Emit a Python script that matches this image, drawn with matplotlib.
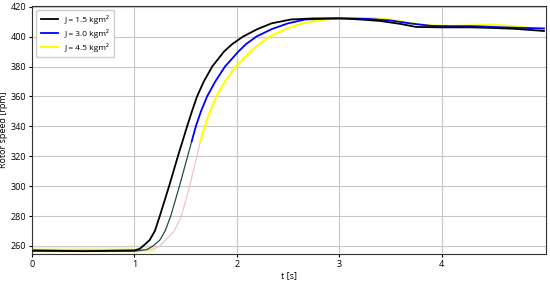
import matplotlib
matplotlib.use("Agg")
import matplotlib.pyplot as plt

plt.rcParams['font.family'] = ['Open Sans', 'DejaVu Sans']

t_black = [0, 0.5, 1.0, 1.05, 1.086, 1.15, 1.2, 1.248, 1.339, 1.425, 1.515, 1.562, 1.612, 1.678, 1.76,
           1.875, 1.955, 2.06, 2.2, 2.34, 2.53, 2.75, 3.0, 3.2, 3.4, 3.6, 3.75, 4.0, 4.3, 4.5, 4.7, 5.0]
v_black = [257, 256.5, 257, 258, 260, 264, 270, 280, 300, 320, 340, 350, 360, 370, 380,
           390, 395, 400, 405, 408.9, 411.5, 412.2, 412.3, 411.5, 410.5, 408.5, 406.5, 406.2, 406.2, 405.8, 405.3, 403.8]

t_blue = [0, 0.5, 1.0, 1.12, 1.183, 1.25, 1.3, 1.355, 1.44, 1.52, 1.56, 1.60, 1.65, 1.71, 1.79,
          1.885, 2.015, 2.09, 2.19, 2.34, 2.5, 2.67, 2.9, 3.1, 3.3, 3.5, 3.7, 3.9, 4.1, 4.3, 4.5, 4.7, 5.0]
v_blue = [256.5, 256.5, 256.5, 257.5, 260, 264, 270, 280, 300, 320, 330, 340, 350, 360, 370,
          380, 390, 395, 400, 405, 408.9, 411.5, 412, 412.2, 411.8, 410.8, 408.8, 407.2, 407, 407, 406.5, 406, 405.5]

t_yellow = [0, 0.5, 1.15, 1.2, 1.248, 1.32, 1.39, 1.459, 1.54, 1.61, 1.645, 1.685, 1.74, 1.80, 1.885,
            1.99, 2.135, 2.22, 2.32, 2.47, 2.64, 2.85, 3.1, 3.3, 3.5, 3.7, 3.9, 4.1, 4.3, 4.5, 4.7, 4.9, 5.0]
v_yellow = [257.5, 257.5, 257.5, 258.3, 260, 265, 270, 280, 300, 320, 330, 340, 350, 360, 370,
            380, 390, 395, 400, 405, 408.9, 411.5, 412.5, 412.5, 411.5, 409, 407.5, 407.2, 407.5, 408, 407, 405.5, 404.7]

labels = ['J = 1.5 kgm²', 'J = 3.0 kgm²', 'J = 4.5 kgm²']
x_ticks = [0, 1, 2, 3, 4]
y_ticks = [260, 280, 300, 320, 340, 360, 380, 400, 420]

fig = plt.figure(figsize=(5.5, 2.82), dpi=100)
ax = fig.add_axes([32/550, 1-254/282, (546-32)/550, (254-6)/282])

# pale band behind the flat start of the J = 4.5 curve
n_flat = 4
ax.plot(t_yellow[:n_flat], v_yellow[:n_flat], color='#fbf3a8', lw=4, alpha=0.8, zorder=2,
        solid_capstyle='butt')

# yellow: lower part rendered thin pinkish, upper part bright yellow
k_y = v_yellow.index(330) + 1
ax.plot(t_yellow[:k_y], v_yellow[:k_y], color='#f2c4c4', lw=0.9, zorder=3)
ax.plot(t_yellow[k_y - 1:], v_yellow[k_y - 1:], color='#ffff00', lw=1.5, zorder=3)
# blue: lower part rendered thin dark teal, upper part blue
k_b = v_blue.index(330) + 1
ax.plot(t_blue[:k_b], v_blue[:k_b], color='#1f4d4a', lw=0.9, zorder=4)
ax.plot(t_blue[k_b - 1:], v_blue[k_b - 1:], color='#0000ff', lw=1.3, zorder=4)
ax.plot(t_black, v_black, color='black', lw=1.3, zorder=5)

h1, = ax.plot([], [], color='black', lw=1.3)
h2, = ax.plot([], [], color='#0000ff', lw=1.3)
h3, = ax.plot([], [], color='#ffff00', lw=1.5)
ax.legend([h1, h2, h3], labels, loc='upper left', fontsize=6,
          frameon=True, framealpha=1, edgecolor='#cccccc', handlelength=2.0, borderpad=0.6, labelspacing=0.6)

ax.set_xlim(0, 5.02)
ax.set_ylim(254.6, 420.5)
ax.set_xticks(x_ticks)
ax.set_yticks(y_ticks)
ax.tick_params(labelsize=6.5, length=2, pad=2)
ax.grid(True, color='#c8c8c8', lw=0.8)
ax.set_axisbelow(True)
ax.set_xlabel('t [s]', fontsize=6.5, labelpad=2)
ax.set_ylabel('Rotor speed [rpm]', fontsize=6.5, labelpad=2)
for s in ax.spines.values():
    s.set_color('#333333')
    s.set_linewidth(0.8)

fig.savefig('out.png', dpi=100)
